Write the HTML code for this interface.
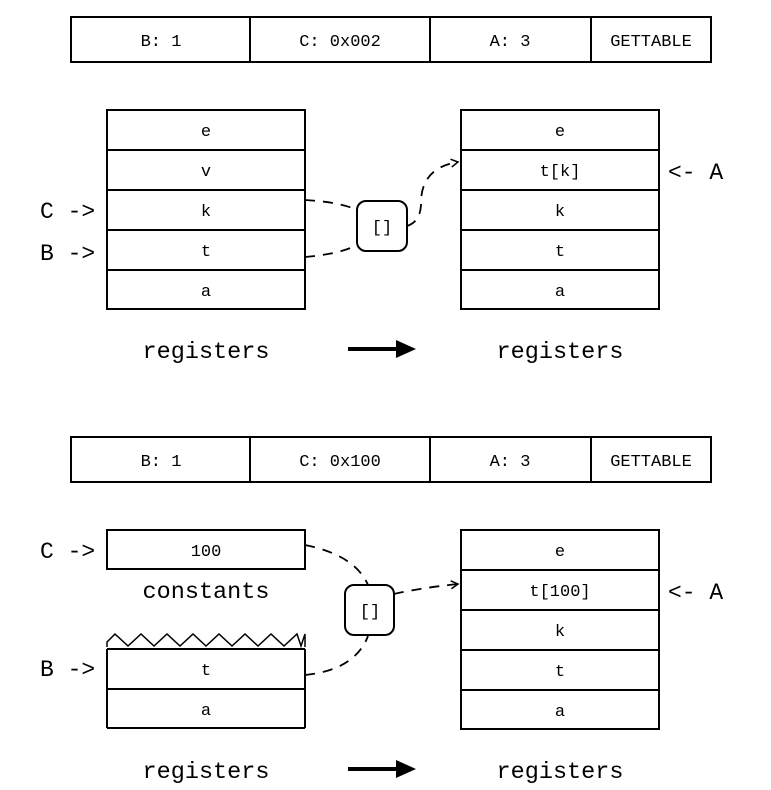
<!DOCTYPE html>
<html><head><style>
html,body{margin:0;padding:0;background:#fff}
svg{display:block}
text{font-family:"Liberation Mono",monospace;fill:#000}
</style></head><body>
<svg width="771" height="790" viewBox="0 0 771 790" xmlns="http://www.w3.org/2000/svg">
<defs>
<marker id="ah" markerWidth="10" markerHeight="10" refX="8" refY="5" orient="auto" markerUnits="userSpaceOnUse"><path d="M1,1 L8,5 L1,9" fill="none" stroke="#000" stroke-width="1.5"/></marker>
</defs>
<g stroke="#000" stroke-width="2" fill="none">
<rect x="71" y="17" width="640" height="45"/>
<line x1="250" y1="17" x2="250" y2="62"/><line x1="430" y1="17" x2="430" y2="62"/><line x1="591" y1="17" x2="591" y2="62"/>
<rect x="107" y="110" width="198" height="199"/>
<line x1="107" y1="150" x2="305" y2="150"/><line x1="107" y1="190" x2="305" y2="190"/><line x1="107" y1="230" x2="305" y2="230"/><line x1="107" y1="270" x2="305" y2="270"/>
<rect x="461" y="110" width="198" height="199"/>
<line x1="461" y1="150" x2="659" y2="150"/><line x1="461" y1="190" x2="659" y2="190"/><line x1="461" y1="230" x2="659" y2="230"/><line x1="461" y1="270" x2="659" y2="270"/>
<rect x="357" y="201" width="50" height="50" rx="9"/>
<rect x="71" y="437" width="640" height="45"/>
<line x1="250" y1="437" x2="250" y2="482"/><line x1="430" y1="437" x2="430" y2="482"/><line x1="591" y1="437" x2="591" y2="482"/>
<rect x="107" y="530" width="198" height="39"/>
<line x1="107" y1="649" x2="107" y2="728"/><line x1="305" y1="649" x2="305" y2="728"/>
<line x1="107" y1="649" x2="305" y2="649"/><line x1="107" y1="689" x2="305" y2="689"/><line x1="107" y1="728" x2="305" y2="728"/>
<rect x="461" y="530" width="198" height="199"/>
<line x1="461" y1="570" x2="659" y2="570"/><line x1="461" y1="610" x2="659" y2="610"/><line x1="461" y1="650" x2="659" y2="650"/><line x1="461" y1="690" x2="659" y2="690"/>
<rect x="345" y="585" width="49" height="50" rx="9"/>
</g>
<polyline points="107,647 107,642 115,634 128,646 141,634 154,646 167,634 180,646 193,634 206,646 219,634 232,646 245,634 258,646 271,634 284,646 297,634 301,646 305,634 305,647" fill="none" stroke="#000" stroke-width="1.5"/>
<g stroke="#000" stroke-width="1.8" fill="none" stroke-dasharray="10,8">
<path d="M305,200 Q340,202 357,210"/>
<path d="M305,257 Q340,254 357,245"/>
<path d="M407,226 Q420,222 421,205 Q420,168 458,162" marker-end="url(#ah)"/>
<path d="M305,545 Q355,555 368,585"/>
<path d="M305,675 Q355,670 368,636"/>
<path d="M394,594 Q420,588 458,584" marker-end="url(#ah)"/>
</g>
<line x1="348" y1="349" x2="398" y2="349" stroke="#000" stroke-width="4"/>
<polygon points="396,340 416,349 396,358" fill="#000"/>
<line x1="348" y1="769" x2="398" y2="769" stroke="#000" stroke-width="4"/>
<polygon points="396,760 416,769 396,778" fill="#000"/>
<g font-size="17" text-anchor="middle">
<text x="161" y="46">B: 1</text><text x="340" y="46">C: 0x002</text><text x="510" y="46">A: 3</text><text x="651" y="46">GETTABLE</text>
<text x="161" y="466">B: 1</text><text x="340" y="466">C: 0x100</text><text x="510" y="466">A: 3</text><text x="651" y="466">GETTABLE</text>
<text x="206" y="136">e</text><text x="206" y="176">v</text><text x="206" y="216">k</text><text x="206" y="256">t</text><text x="206" y="296">a</text>
<text x="560" y="136">e</text><text x="560" y="176">t[k]</text><text x="560" y="216">k</text><text x="560" y="256">t</text><text x="560" y="296">a</text>
<text x="382" y="232">[]</text>
<text x="206" y="556">100</text><text x="206" y="675">t</text><text x="206" y="715">a</text>
<text x="560" y="556">e</text><text x="560" y="596">t[100]</text><text x="560" y="636">k</text><text x="560" y="676">t</text><text x="560" y="716">a</text>
<text x="370" y="616">[]</text>
</g>
<g font-size="23">
<text x="40" y="218">C -&gt;</text><text x="40" y="260">B -&gt;</text><text x="668" y="179">&lt;- A</text>
<text x="40" y="558">C -&gt;</text><text x="40" y="676">B -&gt;</text><text x="668" y="599">&lt;- A</text>
</g>
<g font-size="23.5" text-anchor="middle">
<text x="206" y="358">registers</text><text x="560" y="358">registers</text>
<text x="206" y="598">constants</text>
<text x="206" y="778">registers</text><text x="560" y="778">registers</text>
</g>
</svg>
</body></html>
